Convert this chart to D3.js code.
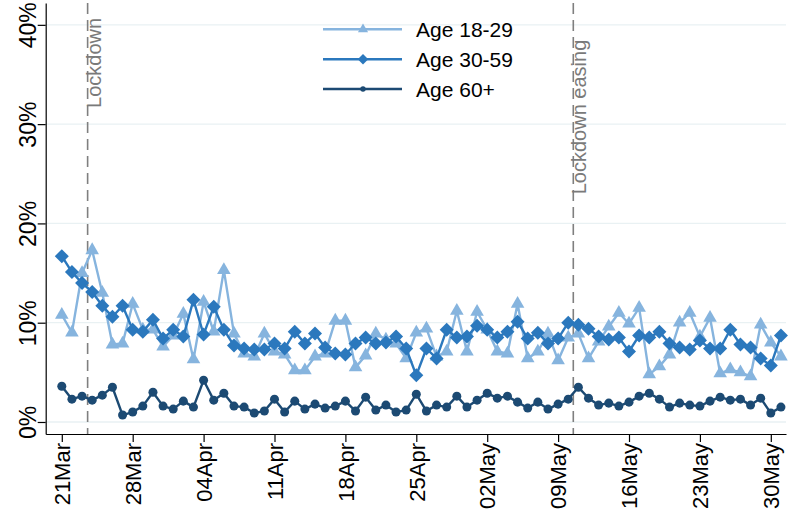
<!DOCTYPE html>
<html>
<head>
<meta charset="utf-8">
<script src="https://cdn.jsdelivr.net/npm/d3@7/dist/d3.min.js"></script>
<style>
  html, body { margin: 0; padding: 0; background: #fff; }
  svg { display: block; font-family: "Liberation Sans", Arial, sans-serif; }
</style>
</head>
<body>
<svg id="chart" width="789" height="516"></svg>
<script>
// Daily share (%) by age group, 21 March – 31 May 2020
const startDate = "2020-03-21";
const dayCount = 72;

const age18to29 = [
  10.8, 9.0, 15.0, 17.3, 13.0, 7.8, 7.9, 11.9, 9.3, 9.3,
  7.6, 8.7, 10.9, 6.3, 12.1, 9.1, 15.3, 8.9, 6.9, 6.6,
  8.9, 7.1, 6.8, 5.2, 5.2, 6.6, 6.9, 10.2, 10.2, 5.5,
  6.7, 8.9, 8.3, 7.9, 6.4, 9.0, 9.4, 6.6, 7.1, 11.2,
  7.1, 11.1, 9.3, 7.1, 6.9, 11.9, 6.4, 7.1, 8.9, 6.2,
  8.5, 8.9, 6.4, 8.1, 9.6, 11.0, 9.9, 11.5, 4.8, 5.6,
  6.8, 10.0, 11.0, 8.6, 10.5, 4.9, 5.3, 5.0, 4.6, 9.8,
  8.0, 6.6
];
const age30to59 = [
  16.7, 15.1, 14.0, 13.1, 11.7, 10.6, 11.7, 9.3, 9.1, 10.3,
  8.4, 9.3, 8.6, 12.3, 8.8, 11.6, 9.3, 7.7, 7.4, 7.3,
  7.3, 7.9, 7.4, 9.1, 7.9, 8.9, 7.5, 6.9, 6.8, 7.9,
  8.5, 7.9, 8.0, 8.6, 7.4, 4.7, 7.4, 6.4, 9.3, 8.5,
  8.6, 9.7, 9.3, 8.5, 9.1, 10.1, 8.4, 9.0, 7.9, 8.4,
  10.0, 9.8, 9.4, 8.6, 8.3, 8.5, 7.1, 8.7, 8.5, 9.1,
  7.9, 7.5, 7.3, 8.2, 7.4, 7.4, 9.3, 7.8, 7.5, 6.4,
  5.7, 8.7
];
const age60plus = [
  3.6, 2.3, 2.6, 2.2, 2.7, 3.5, 0.7, 1.0, 1.6, 3.0,
  1.6, 1.3, 2.1, 1.5, 4.2, 2.2, 2.9, 1.6, 1.5, 0.9,
  1.1, 2.3, 1.0, 2.1, 1.3, 1.8, 1.4, 1.6, 2.1, 1.1,
  2.5, 1.2, 1.7, 1.0, 1.2, 2.8, 1.1, 1.7, 1.5, 2.6,
  1.5, 2.2, 2.9, 2.4, 2.6, 2.0, 1.4, 2.0, 1.3, 1.8,
  2.3, 3.5, 2.4, 1.7, 1.9, 1.6, 2.0, 2.6, 2.9, 2.3,
  1.5, 1.9, 1.7, 1.6, 2.1, 2.5, 2.2, 2.3, 1.7, 2.4,
  0.9, 1.5
];

const seriesNames = ["Age 18-29", "Age 30-59", "Age 60+"];
const seriesColors = ["#86b4de", "#2b78bd", "#1c4a73"];
const seriesShapes = ["triangle", "diamond", "circle"];

const yTicks = [0, 10, 20, 30, 40];
const xTickLabels = ["21Mar", "28Mar", "04Apr", "11Apr", "18Apr", "25Apr",
                     "02May", "09May", "16May", "23May", "30May"];

// Event markers (fractional day offsets from the start date)
const eventNames = ["Lockdown", "Lockdown easing"];
const eventDays = [2.55, 50.5];
const eventLabelTop = [40.7, 38.5];   // label top position, in % units

// ---------------------------------------------------------------------
const DAY = 864e5;
const t0 = new Date(startDate + "T00:00:00Z");
const dates = d3.range(dayCount).map(i => new Date(+t0 + i * DAY));
const allSeries = [age18to29, age30to59, age60plus];

const svg = d3.select("#chart");
const plotLeft = 45.7, plotRight = 786, plotTop = 3, plotBottom = 434;

const x = d3.scaleUtc()
  .domain([new Date(+t0 - 1.589 * DAY), new Date(+t0 + 71.5 * DAY)])
  .range([plotLeft, plotRight]);
const y = d3.scaleLinear()
  .domain([-1.21, 42.2])
  .range([plotBottom, plotTop]);

// horizontal grid
svg.append("g")
  .selectAll("line")
  .data(yTicks)
  .join("line")
  .attr("x1", plotLeft).attr("x2", plotRight)
  .attr("y1", d => y(d)).attr("y2", d => y(d))
  .attr("stroke", "#e9f1f3").attr("stroke-width", 1.3);

// event lines
const ev = svg.append("g");
eventDays.forEach((d, i) => {
  const xp = x(new Date(+t0 + d * DAY));
  ev.append("line")
    .attr("x1", xp).attr("x2", xp)
    .attr("y1", plotTop).attr("y2", plotBottom)
    .attr("stroke", "#7f7f7f").attr("stroke-width", 1.6)
    .attr("stroke-dasharray", "11,6");
  ev.append("text")
    .attr("transform", `translate(${xp + 13},${y(eventLabelTop[i])}) rotate(-90)`)
    .attr("text-anchor", "end")
    .attr("font-size", 20)
    .attr("fill", "#7a7a7a")
    .text(eventNames[i]);
});

// axes
const xTickDates = xTickLabels.map((_, i) => new Date(+t0 + i * 7 * DAY));
const xAxis = d3.axisBottom(x)
  .tickValues(xTickDates)
  .tickFormat((d, i) => xTickLabels[i])
  .tickSize(8).tickSizeOuter(0);
const gx = svg.append("g")
  .attr("transform", `translate(0,${plotBottom})`)
  .call(xAxis);
gx.select(".domain").attr("stroke", "#000").attr("stroke-width", 1.2);
gx.selectAll(".tick line").attr("stroke", "#000").attr("stroke-width", 1.2);
gx.selectAll(".tick text")
  .attr("font-size", 22)
  .attr("font-family", "Liberation Sans, Arial, sans-serif")
  .attr("fill", "#000")
  .attr("text-anchor", "end")
  .attr("dy", "0.35em")
  .attr("transform", "translate(0,9) rotate(-90)")
  .attr("x", 0).attr("y", 0);

const yAxis = d3.axisLeft(y)
  .tickValues(yTicks)
  .tickFormat(d => d + "%")
  .tickSize(8).tickSizeOuter(0);
const gy = svg.append("g")
  .attr("transform", `translate(${plotLeft},0)`)
  .call(yAxis);
gy.select(".domain").attr("stroke", "#000").attr("stroke-width", 1.2);
gy.selectAll(".tick line").attr("stroke", "#000").attr("stroke-width", 1.2);
gy.selectAll(".tick text")
  .attr("font-size", 23)
  .attr("font-family", "Liberation Sans, Arial, sans-serif")
  .attr("fill", "#000")
  .attr("text-anchor", "middle")
  .attr("x", 0).attr("dy", 0)
  .attr("transform", "translate(-10,0) rotate(-90)")
  .attr("y", 0);

// marker symbols
function markerPath(shape) {
  if (shape === "triangle") return d3.symbol(d3.symbolTriangle, 80)();
  if (shape === "diamond") return "M0,-7L7,0L0,7L-7,0Z";
  return d3.symbol(d3.symbolCircle, 64)();
}

const line = d3.line()
  .x((d, i) => x(dates[i]))
  .y(d => y(d));

allSeries.forEach((vals, s) => {
  const g = svg.append("g");
  g.append("path")
    .datum(vals)
    .attr("d", line)
    .attr("fill", "none")
    .attr("stroke", seriesColors[s])
    .attr("stroke-width", 2.4)
    .attr("stroke-linejoin", "round");
  g.selectAll("path.mk")
    .data(vals)
    .join("path")
    .attr("class", "mk")
    .attr("d", markerPath(seriesShapes[s]))
    .attr("transform", (d, i) => `translate(${x(dates[i])},${y(d)})`)
    .attr("fill", seriesColors[s]);
});

// legend
const legend = svg.append("g");
const legendRows = [29.3, 59.3, 89];
seriesNames.forEach((name, s) => {
  const row = legend.append("g").attr("transform", `translate(0,${legendRows[s]})`);
  row.append("line")
    .attr("x1", 323).attr("x2", 402).attr("y1", 0).attr("y2", 0)
    .attr("stroke", seriesColors[s]).attr("stroke-width", 2.4);
  const scale = s === 2 ? 0.6 : 0.75;
  row.append("path")
    .attr("d", markerPath(seriesShapes[s]))
    .attr("transform", `translate(363,0) scale(${scale})`)
    .attr("fill", seriesColors[s]);
  row.append("text")
    .attr("x", 416).attr("y", 0).attr("dy", "0.36em")
    .attr("font-size", 21)
    .attr("fill", "#000")
    .text(name);
});
</script>
</body>
</html>
